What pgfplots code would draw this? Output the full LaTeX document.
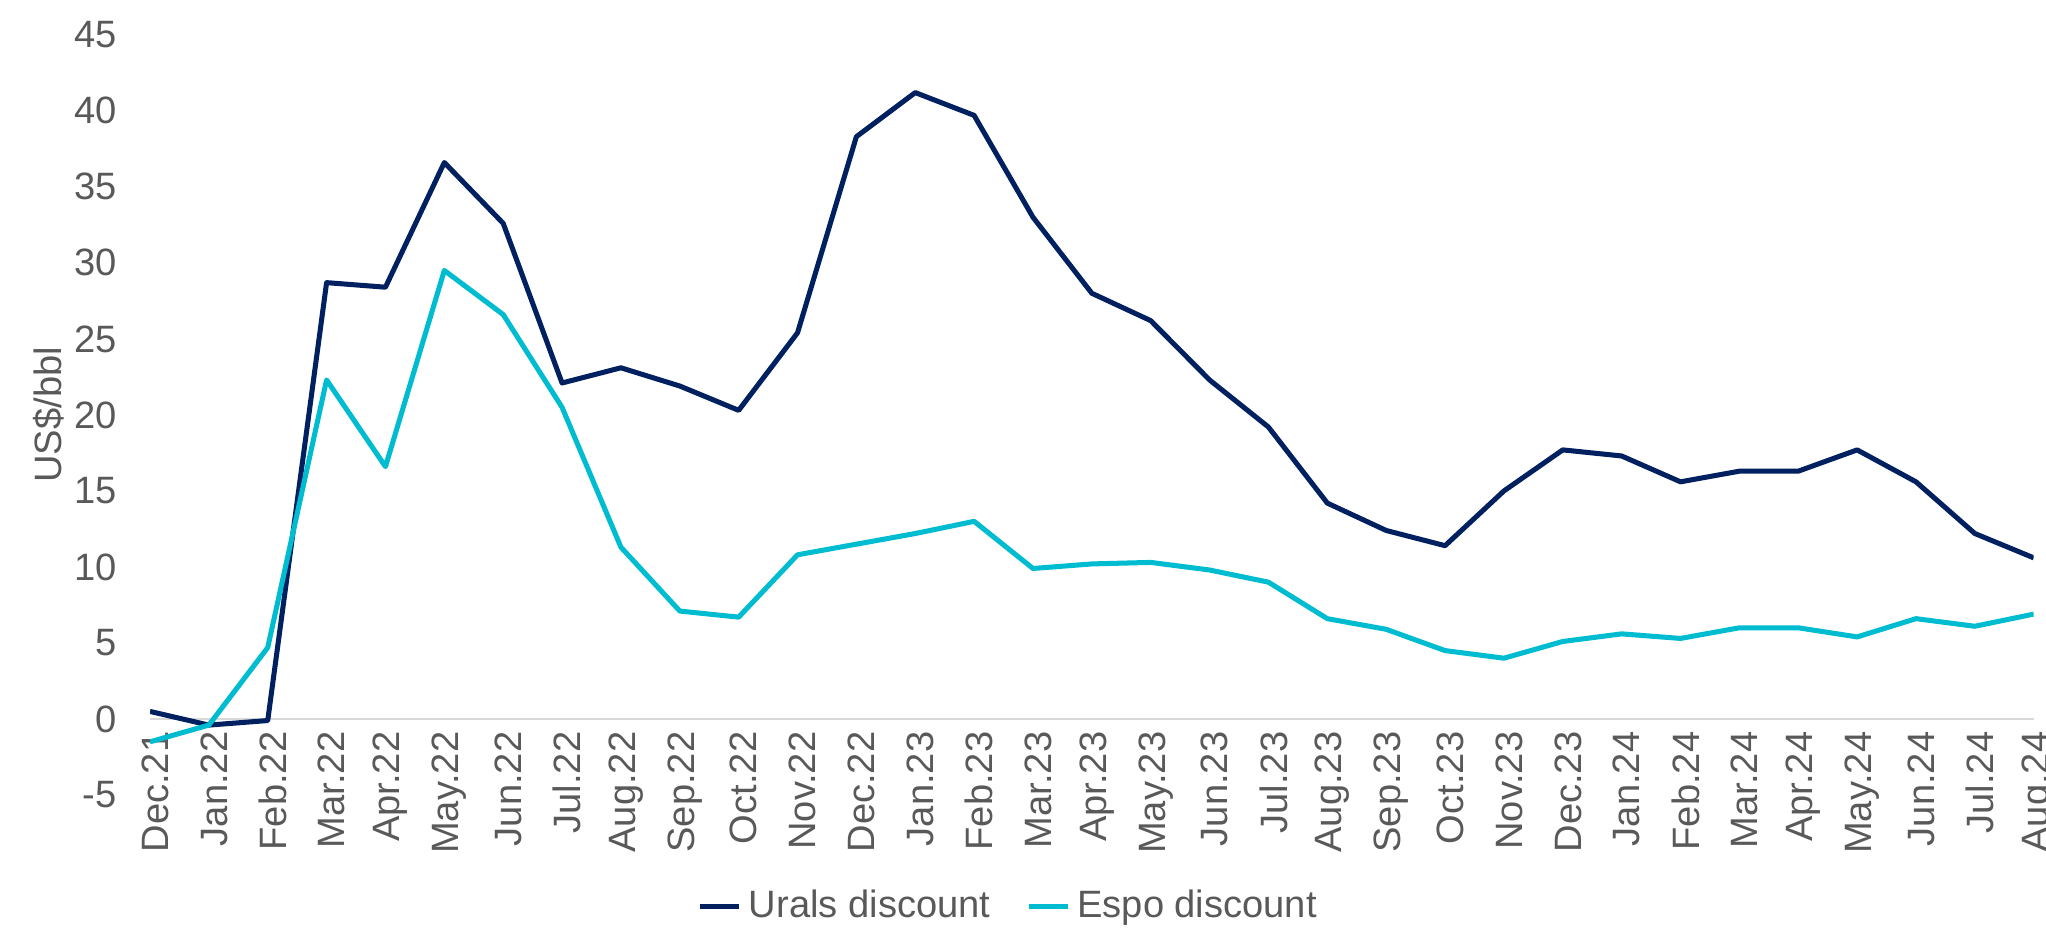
\documentclass[border=0pt]{standalone}
\usepackage{fontspec}
\setmainfont{Liberation Sans}
\usepackage{pgfplots}
\pgfplotsset{compat=1.18}

\definecolor{urals}{HTML}{002060}
\definecolor{espo}{HTML}{00BCD0}
\definecolor{txt}{HTML}{595959}
\definecolor{zline}{HTML}{D9D9D9}

\begin{document}
\begin{tikzpicture}
\useasboundingbox (-1.466cm,-1.31cm) rectangle (18.53cm,7.77cm);
\begin{axis}[
    scale only axis,
    width  = 18.41cm,
    height = 7.43cm,
    xmin=0, xmax=32,
    ymin=-5, ymax=45,
    axis x line=middle,
    axis y line=left,
    x axis line style={draw=zline, line width=0.8pt, -},
    y axis line style={draw=none},
    hide obscured x ticks=false,
    hide obscured y ticks=false,
    major tick length=0pt,
    xtick={0,...,32},
    xticklabels={Dec.21,Jan.22,Feb.22,Mar.22,Apr.22,May.22,Jun.22,Jul.22,Aug.22,Sep.22,Oct.22,Nov.22,Dec.22,Jan.23,Feb.23,Mar.23,Apr.23,May.23,Jun.23,Jul.23,Aug.23,Sep.23,Oct.23,Nov.23,Dec.23,Jan.24,Feb.24,Mar.24,Apr.24,May.24,Jun.24,Jul.24,Aug.24},
    xticklabel style={rotate=90, anchor=east, font=\fontsize{10.6}{12}\selectfont, text=txt, yshift=-0.05cm},
    ytick={-5,0,...,45},
    yticklabel style={font=\fontsize{10.6}{12}\selectfont, text=txt, xshift=-0.2cm},
    /pgf/number format/assume math mode=true,
    ylabel={US\$/bbl},
    ylabel style={at={(axis description cs:-0.054,0.5)}, anchor=center, font=\fontsize{10.6}{12}\selectfont, text=txt},
    legend columns=2,
    legend style={at={(0.457,-0.147)}, anchor=center, draw=none, fill=none,
        font=\fontsize{10.6}{12}\selectfont, text=txt,
        /tikz/every even column/.append style={column sep=0.28cm}},
    legend image code/.code={\draw[#1] (0cm,0cm) -- (0.38cm,0cm);},
    every axis plot/.append style={line width=1.4pt, line join=round},
]
\addplot[color=urals, mark=none] coordinates {
    (0,0.5) (1,-0.4) (2,-0.1) (3,28.7) (4,28.4) (5,36.6) (6,32.6) (7,22.1)
    (8,23.1) (9,21.9) (10,20.3) (11,25.4) (12,38.3) (13,41.2) (14,39.7) (15,33.0)
    (16,28.0) (17,26.2) (18,22.3) (19,19.2) (20,14.2) (21,12.4) (22,11.4) (23,15.0)
    (24,17.7) (25,17.3) (26,15.6) (27,16.3) (28,16.3) (29,17.7) (30,15.6) (31,12.2)
    (32,10.6)};
\addplot[color=espo, mark=none] coordinates {
    (0,-1.5) (1,-0.4) (2,4.7) (3,22.3) (4,16.6) (5,29.5) (6,26.6) (7,20.5)
    (8,11.3) (9,7.1) (10,6.7) (11,10.8) (12,11.5) (13,12.2) (14,13.0) (15,9.9)
    (16,10.2) (17,10.3) (18,9.8) (19,9.0) (20,6.6) (21,5.9) (22,4.5) (23,4.0)
    (24,5.1) (25,5.6) (26,5.3) (27,6.0) (28,6.0) (29,5.4) (30,6.6) (31,6.1)
    (32,6.9)};
\legend{Urals discount,Espo discount}
\end{axis}
\end{tikzpicture}
\end{document}
